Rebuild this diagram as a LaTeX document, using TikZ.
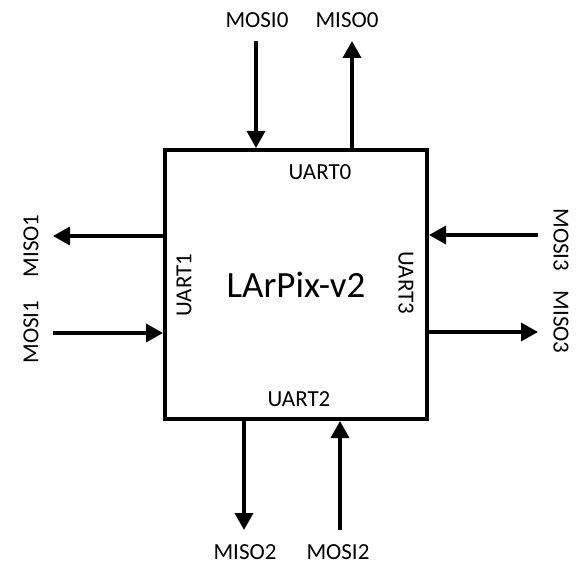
\documentclass[tikz,border=0pt]{standalone}
\usepackage{fontspec}
\setmainfont{Carlito}
\usetikzlibrary{arrows.meta,calc}

\begin{document}
\begin{tikzpicture}[
  x=1pt,y=-1pt,
  font=\fontsize{23}{25}\selectfont,
  arr/.style={-{Triangle[length=17pt,width=18pt]},line width=3.5pt},
  chipbox/.style={draw,line width=4pt,minimum width=262pt,minimum height=269pt,inner sep=0pt},
  lbl/.style={inner sep=0pt},
]
  \useasboundingbox (0,0) rectangle (577,564);
  \node[chipbox] (chip) at (296,284.5) {};
  \node[font=\fontsize{37}{40}\selectfont] (name) at (296,285) {LArPix-v2};

  % UART labels
  \node[lbl] (u0) at (320,172) {UART0};
  \node[lbl,rotate=90] (u1) at (184,285) {UART1};
  \node[lbl] (u2) at (299,399) {UART2};
  \node[lbl,rotate=-90] (u3) at (406,283) {UART3};

  % free ends
  \coordinate (mosi0) at (256,41);
  \coordinate (miso0) at (352,41);
  \coordinate (miso1) at (53,236);
  \coordinate (mosi1) at (53,333);
  \coordinate (mosi3) at (538,235);
  \coordinate (miso3) at (538,332);
  \coordinate (miso2) at (244,530);
  \coordinate (mosi2) at (340,530);

  \draw[arr] (mosi0) -- (mosi0 |- chip.north);
  \draw[arr] (miso0 |- chip.north) -- (miso0);
  \draw[arr] (miso1 -| chip.west) -- (miso1);
  \draw[arr] (mosi1) -- (mosi1 -| chip.west);
  \draw[arr] (mosi3) -- (mosi3 -| chip.east);
  \draw[arr] (miso3 -| chip.east) -- (miso3);
  \draw[arr] (miso2 |- chip.south) -- (miso2);
  \draw[arr] (mosi2) -- (mosi2 |- chip.south);

  % signal names
  \node[lbl] (tmosi0) at (257,20) {MOSI0};
  \node[lbl] (tmiso0) at (347,20) {MISO0};
  \node[lbl,rotate=90] (tmiso1) at (31,246) {MISO1};
  \node[lbl,rotate=90] (tmosi1) at (31,332) {MOSI1};
  \node[lbl,rotate=-90] (tmosi3) at (561,240) {MOSI3};
  \node[lbl,rotate=-90] (tmiso3) at (561,322) {MISO3};
  \node[lbl] (tmiso2) at (245,552) {MISO2};
  \node[lbl] (tmosi2) at (338,552) {MOSI2};
\end{tikzpicture}
\end{document}
